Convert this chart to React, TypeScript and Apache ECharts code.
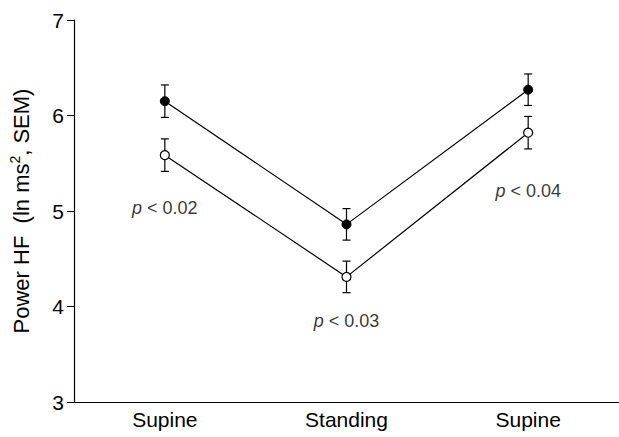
import React, { useEffect, useRef } from "react";
import * as echarts from "echarts";

const categories = ["Supine", "Standing", "Supine"];
const filledMeans = [6.15, 4.86, 6.27];
const filledSem = [0.17, 0.165, 0.165];
const openMeans = [5.585, 4.31, 5.82];
const openSem = [0.17, 0.165, 0.17];
const pLabels = ["0.02", "0.03", "0.04"];
const pLabelY = [5.03, 3.85, 5.21];
const yTicks = { min: 3, max: 7, interval: 1 };

const FONT = "Liberation Sans, Arial, sans-serif";

function errData(means: number[], sem: number[]) {
  return means.map((m, i) => [i, m - sem[i], m + sem[i]]);
}

function renderErr(params: any, api: any) {
  const x = api.value(0);
  const lo = api.value(1);
  const hi = api.value(2);
  const top = api.coord([x, hi]);
  const bot = api.coord([x, lo]);
  const w = 4;
  const st = { stroke: "#000", lineWidth: 1.2 };
  return {
    type: "group",
    children: [
      { type: "line", shape: { x1: top[0], y1: top[1], x2: bot[0], y2: bot[1] }, style: st },
      { type: "line", shape: { x1: top[0] - w, y1: top[1], x2: top[0] + w, y2: top[1] }, style: st },
      { type: "line", shape: { x1: bot[0] - w, y1: bot[1], x2: bot[0] + w, y2: bot[1] }, style: st },
    ],
  };
}

export default function App() {
  const ref = useRef<HTMLDivElement>(null);
  useEffect(() => {
    if (!ref.current) return;
    const chart = echarts.init(ref.current, null, { renderer: "svg" });
    chart.setOption({
      animation: false,
      backgroundColor: "#fff",
      textStyle: { fontFamily: FONT },
      grid: { left: 74, right: 0, top: 20, bottom: 35, containLabel: false },
      xAxis: {
        type: "category",
        data: categories,
        boundaryGap: true,
        axisLine: { lineStyle: { color: "#000", width: 1.2 } },
        axisTick: { alignWithLabel: true, length: 8, lineStyle: { color: "#000", width: 1 } },
        axisLabel: { color: "#000", fontSize: 21, fontFamily: FONT, margin: 7 },
        splitLine: { show: false },
      },
      yAxis: {
        type: "value",
        min: yTicks.min,
        max: yTicks.max,
        interval: yTicks.interval,
        axisLine: { show: true, lineStyle: { color: "#000", width: 1.2 } },
        axisTick: { show: true, length: 7, lineStyle: { color: "#000", width: 1 } },
        axisLabel: { color: "#000", fontSize: 21, fontFamily: FONT, margin: 10 },
        splitLine: { show: false },
        name: "{a|Power HF  (ln ms}{s|2}{a|, SEM)}",
        nameLocation: "middle",
        nameGap: 40,
        nameTextStyle: {
          fontSize: 22,
          color: "#000",
          fontFamily: FONT,
          rich: {
            a: { fontSize: 22, color: "#000", fontFamily: FONT, lineHeight: 26 },
            s: { fontSize: 14, color: "#000", fontFamily: FONT, verticalAlign: "top", lineHeight: 26 },
          },
        },
      },
      series: [
        {
          type: "custom",
          renderItem: renderErr,
          data: errData(filledMeans, filledSem),
          encode: { x: 0, y: [1, 2] },
          z: 1,
        },
        {
          type: "custom",
          renderItem: renderErr,
          data: errData(openMeans, openSem),
          encode: { x: 0, y: [1, 2] },
          z: 1,
        },
        {
          type: "line",
          data: filledMeans,
          symbol: "circle",
          symbolSize: 9,
          lineStyle: { color: "#000", width: 1.2 },
          itemStyle: { color: "#000", borderColor: "#000", borderWidth: 1 },
          z: 3,
        },
        {
          type: "line",
          data: openMeans,
          symbol: "circle",
          symbolSize: 9,
          showSymbol: true,
          lineStyle: { color: "#000", width: 1.2 },
          itemStyle: { color: "#fff", borderColor: "#000", borderWidth: 1.2 },
          z: 3,
        },
        {
          type: "scatter",
          symbolSize: 0,
          silent: true,
          data: pLabels.map((p, i) => [i, pLabelY[i], p]),
          label: {
            show: true,
            position: "inside",
            formatter: (d: any) => "{i|p} < " + d.value[2],
            color: "#000",
            fontSize: 18,
            fontFamily: FONT,
            rich: {
              i: { fontStyle: "italic", fontSize: 18, fontFamily: FONT, color: "#000" },
            },
          },
          z: 4,
        },
      ],
    });
    return () => chart.dispose();
  }, []);
  return <div ref={ref} style={{ width: 619, height: 437, position: "absolute", left: 0, top: 0 }} />;
}
